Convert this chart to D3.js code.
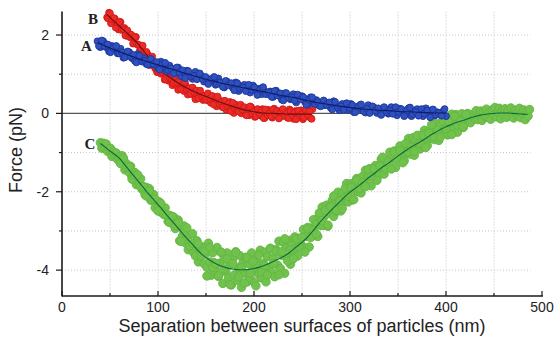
<!DOCTYPE html>
<html>
<head>
<meta charset="utf-8">
<script src="https://cdn.jsdelivr.net/npm/d3@7"></script>
<style>
  html, body { margin: 0; padding: 0; background: #fff; }
  svg { display: block; }
</style>
</head>
<body>
<div id="chart"></div>
<script>
// axis ticks
const xTicks = [0, 100, 200, 300, 400, 500];
const xMinor = [50, 150, 250, 350, 450];
const yTicks = [-4, -2, 0, 2];
const yMinor = [-3, -1, 1];
const xGrid = [50, 100, 150, 200, 250, 300, 350, 400, 450];
const yGrid = [-4, -3, -2, -1, 1, 2];

// series A (blue) raw points, x = start + i*step
const aStart = 37, aStep = 3;
const aForce = [1.84,1.69,1.84,1.69,1.58,1.72,1.63,1.53,1.65,1.42,1.54,1.56,1.41,1.34,1.51,1.36,1.41,1.26,1.32,1.25,
  1.30,1.16,1.32,1.17,1.07,1.22,1.13,1.04,1.17,0.95,1.06,1.09,0.95,0.88,1.06,0.92,0.96,0.81,0.88,0.82,
  0.87,0.73,0.89,0.75,0.66,0.81,0.74,0.65,0.79,0.57,0.69,0.73,0.59,0.53,0.71,0.58,0.63,0.49,0.57,0.50,
  0.56,0.42,0.58,0.45,0.35,0.51,0.44,0.36,0.49,0.28,0.40,0.44,0.30,0.23,0.41,0.28,0.34,0.20,0.28,0.21,
  0.27,0.14,0.31,0.18,0.08,0.24,0.17,0.09,0.24,0.03,0.16,0.20,0.07,0.02,0.21,0.09,0.15,0.01,0.10,0.05,
  0.11,-0.01,0.16,0.04,-0.05,0.12,0.06,-0.02,0.13,-0.07,0.06,0.11,-0.01,-0.07,0.13,0.01,0.08,-0.06,0.03,-0.02,
  0.05,-0.07];
const a2Start = 38.5, a2Step = 3;
const a2Force = [1.72,1.86,1.72,1.76,1.56,1.68,1.72,1.53,1.56,1.43,1.58,1.45,1.49,1.30,1.47,1.32,1.34,1.25,1.39,1.26,
  1.31,1.12,1.25,1.29,1.11,1.15,1.02,1.17,1.05,1.10,0.90,1.08,0.94,0.96,0.87,1.02,0.88,0.93,0.75,0.88,
  0.93,0.75,0.79,0.68,0.83,0.72,0.77,0.59,0.77,0.63,0.66,0.57,0.73,0.60,0.66,0.47,0.61,0.67,0.49,0.54,
  0.42,0.57,0.46,0.51,0.33,0.52,0.39,0.41,0.33,0.48,0.36,0.41,0.22,0.35,0.41,0.24,0.29,0.18,0.33,0.22,
  0.28,0.10,0.29,0.15,0.18,0.10,0.26,0.14,0.21,0.03,0.17,0.23,0.06,0.12,0.01,0.18,0.07,0.13,-0.04,0.16,
  0.03,0.07,-0.01,0.16,0.04,0.11,-0.07,0.08,0.15,-0.02,0.04,-0.06,0.11,0.00,0.07,-0.10,0.10,-0.03,0.01,-0.06,
  0.11];

// series B (red) raw points
const bStart = 47, bStep = 2;
const bForce = [2.45,2.57,2.30,2.42,2.42,2.24,2.14,2.33,2.14,2.18,1.98,2.05,1.94,1.98,1.79,1.95,1.75,1.60,1.68,1.54,
  1.40,1.51,1.23,1.34,1.30,1.15,1.05,1.20,1.01,1.05,0.86,0.94,0.83,0.87,0.72,0.90,0.72,0.60,0.74,0.67,
  0.57,0.71,0.48,0.61,0.63,0.47,0.36,0.57,0.41,0.47,0.34,0.43,0.34,0.41,0.27,0.44,0.27,0.18,0.36,0.26,
  0.16,0.32,0.09,0.24,0.29,0.12,0.01,0.22,0.08,0.14,0.00,0.09,0.02,0.09,-0.05,0.16,0.00,-0.09,0.10,0.02,
  -0.06,0.11,-0.12,0.04,0.09,-0.06,-0.11,0.12,-0.02,0.06,-0.10,0.01,-0.06,0.03,-0.11,0.10,-0.05,-0.14,0.06,-0.01,
  -0.09,0.08,-0.15,0.02,0.07,-0.07,-0.12,0.11];
const b2Start = 48, b2Step = 2;
const b2Force = [2.42,2.55,2.40,2.43,2.19,2.31,2.34,2.13,2.14,1.99,2.12,1.97,2.01,1.78,1.95,1.77,1.75,1.61,1.73,1.56,
  1.57,1.32,1.43,1.45,1.23,1.24,1.08,1.21,1.06,1.09,0.87,1.05,0.89,0.89,0.78,0.93,0.79,0.84,0.62,0.75,
  0.80,0.60,0.64,0.50,0.66,0.53,0.58,0.38,0.58,0.43,0.45,0.35,0.51,0.38,0.44,0.23,0.37,0.43,0.24,0.29,
  0.16,0.32,0.20,0.26,0.06,0.27,0.12,0.15,0.05,0.22,0.10,0.16,-0.05,0.11,0.18,0.00,0.05,-0.07,0.11,-0.01,
  0.07,-0.12,0.10,-0.04,0.00,-0.08,0.10,-0.02,0.06,-0.13,0.03,0.11,-0.06,0.00,-0.12,0.06,-0.05,0.03,-0.15,0.07,
  -0.06,-0.02,-0.10,0.08,-0.03,0.05,-0.14];

// series C (green) raw points
const cStart = 40, cStep = 1.5;
const cForce = [-0.75,-0.89,-0.76,-0.88,-0.78,-0.97,-0.93,-0.89,-1.10,-0.98,-1.07,-1.01,-1.18,-1.11,-1.26,-1.08,-1.29,-1.44,-1.28,-1.40,
  -1.51,-1.35,-1.64,-1.56,-1.51,-1.82,-1.65,-1.80,-1.67,-1.94,-1.87,-2.08,-1.89,-2.08,-1.92,-2.22,-2.14,-2.07,-2.41,-2.23,
  -2.36,-2.26,-2.52,-2.41,-2.58,-2.41,-2.61,-2.76,-2.60,-2.72,-2.82,-2.65,-2.94,-2.87,-2.72,-3.25,-2.89,-3.13,-2.87,-3.30,
  -3.13,-3.48,-3.10,-3.39,-3.07,-3.56,-3.40,-3.25,-3.79,-3.43,-3.64,-3.41,-3.84,-3.59,-3.93,-3.31,-3.79,-4.13,-3.56,-3.81,
  -4.01,-3.42,-4.16,-3.82,-3.56,-4.34,-3.72,-4.04,-3.56,-4.20,-3.87,-4.38,-3.70,-4.12,-3.53,-4.26,-3.94,-3.63,-4.44,-3.81,
  -4.08,-3.67,-4.30,-3.84,-4.21,-3.56,-4.01,-4.32,-3.72,-3.94,-4.11,-3.49,-4.20,-3.82,-3.54,-4.30,-3.65,-3.94,-3.44,-4.05,
  -3.69,-4.17,-3.47,-3.87,-3.26,-3.96,-3.62,-3.29,-4.08,-3.43,-3.68,-3.24,-3.85,-3.36,-3.63,-3.15,-3.44,-3.64,-3.19,-3.32,
  -3.42,-2.96,-3.43,-3.14,-2.91,-3.41,-2.93,-3.11,-2.71,-3.12,-2.83,-3.14,-2.61,-2.86,-2.39,-2.86,-2.61,-2.34,-2.88,-2.39,
  -2.54,-2.22,-2.63,-2.27,-2.50,-2.01,-2.29,-2.49,-2.03,-2.16,-2.25,-1.79,-2.26,-1.97,-1.79,-2.21,-1.82,-1.98,-1.66,-2.00,
  -1.78,-2.03,-1.61,-1.82,-1.45,-1.84,-1.62,-1.41,-1.85,-1.47,-1.59,-1.33,-1.66,-1.37,-1.55,-1.17,-1.40,-1.55,-1.19,-1.29,
  -1.37,-0.99,-1.39,-1.15,-0.96,-1.38,-0.99,-1.15,-0.83,-1.17,-0.95,-1.21,-0.79,-1.01,-0.64,-1.04,-0.83,-0.62,-1.07,-0.69,
  -0.82,-0.57,-0.91,-0.63,-0.81,-0.43,-0.67,-0.82,-0.46,-0.56,-0.64,-0.27,-0.67,-0.44,-0.26,-0.69,-0.29,-0.46,-0.15,-0.50,
  -0.29,-0.55,-0.15,-0.37,-0.02,-0.42,-0.22,-0.03,-0.48,-0.11,-0.25,-0.01,-0.36,-0.08,-0.23,0.00,-0.15,-0.24,-0.03,-0.09,
  -0.14,0.07,-0.16,-0.03,0.06,-0.18,0.04,-0.07,0.11,-0.10,0.02,-0.15,0.09,-0.05,0.15,-0.09,0.03,0.13,-0.14,0.07,
  -0.02,0.12,-0.10,0.06,-0.07,0.14,-0.02,-0.12,0.08,-0.01,-0.07,0.13,-0.11,0.00,0.09,-0.16,0.04,-0.07,0.10];
const c2Start = 61, c2Step = 3;
const c2Force = [-1.28,-1.14,-1.38,-1.37,-1.68,-1.58,-1.57,-1.87,-1.88,-2.11,-1.98,-2.19,-2.19,-2.49,-2.30,-2.55,-2.59,-2.78,-2.63,-2.86,
  -2.79,-3.27,-3.03,-2.92,-3.38,-3.32,-3.64,-3.33,-3.64,-3.53,-4.15,-3.42,-3.93,-3.83,-4.14,-3.54,-3.97,-3.71,-4.37,-3.83,
  -3.55,-4.17,-3.94,-4.33,-3.69,-4.07,-3.78,-4.40,-3.61,-4.05,-3.88,-4.12,-3.46,-3.83,-3.51,-4.12,-3.53,-3.20,-3.77,-3.48,
  -3.71,-3.20,-3.41,-3.16,-3.54,-2.93,-3.17,-2.98,-3.08,-2.54,-2.74,-2.48,-2.85,-2.38,-2.11,-2.47,-2.23,-2.43,-1.91,-2.11,
  -1.89,-2.20,-1.70,-1.91,-1.77,-1.87,-1.44,-1.62,-1.41,-1.71,-1.34,-1.12,-1.42,-1.24,-1.42,-0.99,-1.16,-0.95,-1.26,-0.77,
  -0.98,-0.86,-0.97,-0.56,-0.76,-0.55,-0.87,-0.51,-0.29,-0.60,-0.43,-0.61,-0.20,-0.39,-0.21,-0.54,-0.07,-0.30,-0.20,-0.34,
  -0.03];

// fitted curves
const aFitX = [37,40,50,60,70,80,90,100,110,120,130,140,150,160,170,180,190,200,210,220,230,240,250,260,270,280,290,300,310,320,330,340,350,360,370,380,390,400];
const aFitY = [1.80,1.77,1.67,1.57,1.48,1.39,1.31,1.24,1.16,1.09,1.01,0.94,0.87,0.81,0.75,0.70,0.65,0.60,0.55,0.50,0.45,0.41,0.36,0.30,0.26,0.22,0.18,0.15,0.12,0.10,0.08,0.07,0.05,0.04,0.03,0.02,0.01,0.01];
const bFitX = [47,50,60,70,80,90,100,110,120,130,140,150,160,170,180,190,200,210,220,230,240,250,260];
const bFitY = [2.52,2.45,2.22,2.00,1.75,1.44,1.17,0.96,0.79,0.65,0.53,0.43,0.33,0.24,0.16,0.09,0.04,0.01,0.00,-0.01,-0.02,-0.02,-0.02];
const cFitX = [40,45,50,55,60,65,70,75,80,85,90,95,100,105,110,115,120,125,130,135,140,145,150,155,160,165,170,175,180,185,190,195,200,205,210,215,220,225,230,235,240,245,250,255,260,265,270,275,280,285,290,295,300,305,310,315,320,325,330,335,340,345,350,355,360,365,370,375,380,385,390,395,400,405,410,415,420,425,430,435,440,445,450,455,460,465,470,475,480,485];
const cFitY = [-0.77,-0.86,-0.96,-1.05,-1.15,-1.30,-1.45,-1.60,-1.75,-1.90,-2.05,-2.19,-2.33,-2.47,-2.62,-2.76,-2.90,-3.05,-3.19,-3.32,-3.46,-3.58,-3.68,-3.76,-3.83,-3.89,-3.93,-3.96,-3.98,-3.99,-3.99,-3.98,-3.96,-3.93,-3.89,-3.84,-3.78,-3.72,-3.66,-3.59,-3.49,-3.39,-3.29,-3.18,-3.04,-2.89,-2.74,-2.61,-2.48,-2.36,-2.24,-2.12,-2.01,-1.92,-1.83,-1.73,-1.63,-1.54,-1.44,-1.35,-1.27,-1.18,-1.09,-1.00,-0.92,-0.84,-0.77,-0.70,-0.62,-0.54,-0.47,-0.40,-0.34,-0.29,-0.24,-0.20,-0.16,-0.12,-0.08,-0.05,-0.03,-0.01,0.00,0.01,0.01,0.01,0.00,-0.01,-0.02,-0.03];

const width = 555, height = 348;
const x = d3.scaleLinear().domain([0, 500]).range([62, 542]);
const y = d3.scaleLinear().domain([-4.66, 2.6]).range([296, 11.5]);
const gridEnd = 488;

const svg = d3.select('#chart').append('svg')
  .attr('width', width)
  .attr('height', height)
  .style('font-family', 'Liberation Sans, Arial, sans-serif');

svg.append('rect').attr('width', width).attr('height', height).attr('fill', '#fff');

// grid
svg.append('g').selectAll('line')
  .data(xGrid)
  .enter().append('line')
  .attr('x1', d => x(d)).attr('x2', d => x(d))
  .attr('y1', y.range()[1]).attr('y2', y.range()[0])
  .attr('stroke', '#c4c4c4')
  .attr('stroke-dasharray', '1,2');

svg.append('g').selectAll('line')
  .data(yGrid)
  .enter().append('line')
  .attr('x1', x(0)).attr('x2', x(gridEnd))
  .attr('y1', d => y(d)).attr('y2', d => y(d))
  .attr('stroke', '#c4c4c4')
  .attr('stroke-dasharray', '1,2');

// zero line
svg.append('line')
  .attr('x1', x(0)).attr('x2', x(gridEnd))
  .attr('y1', y(0)).attr('y2', y(0))
  .attr('stroke', '#555')
  .attr('stroke-width', 1.3);

const toPts = (start, step, vals) => vals.map((v, i) => [start + i * step, v]);
const line = d3.line().x(d => x(d[0])).y(d => y(d[1])).curve(d3.curveMonotoneX);

function drawSeries(pts, fitX, fitY, r, fill, stroke, fitColor) {
  const g = svg.append('g');
  g.selectAll('circle')
    .data(pts)
    .enter().append('circle')
    .attr('cx', d => x(d[0]))
    .attr('cy', d => y(d[1]))
    .attr('r', r)
    .attr('fill', fill)
    .attr('stroke', stroke)
    .attr('stroke-width', 0.9);
  g.append('path')
    .datum(fitX.map((v, i) => [v, fitY[i]]))
    .attr('d', line)
    .attr('fill', 'none')
    .attr('stroke', fitColor)
    .attr('stroke-width', 1.1);
}

const cPts = toPts(cStart, cStep, cForce).concat(toPts(c2Start, c2Step, c2Force));
const bPts = toPts(bStart, bStep, bForce).concat(toPts(b2Start, b2Step, b2Force));
const aPts = toPts(aStart, aStep, aForce).concat(toPts(a2Start, a2Step, a2Force));

drawSeries(cPts, cFitX, cFitY, 4.2, '#70c24c', '#62b642', '#0b6b3a');
drawSeries(bPts, bFitX, bFitY, 3.4, '#ec2b26', '#cf1a1a', '#6e1010');
drawSeries(aPts, aFitX, aFitY, 3.4, '#2f50bf', '#1d359a', '#0c1c66');

// axes
const axisColor = '#1a1a1a';
svg.append('line')
  .attr('x1', x(0)).attr('x2', x(0))
  .attr('y1', y.range()[1]).attr('y2', y.range()[0] + 0.5)
  .attr('stroke', axisColor).attr('stroke-width', 1.6);
svg.append('line')
  .attr('x1', x(0)).attr('x2', x(500) + 1)
  .attr('y1', y.range()[0]).attr('y2', y.range()[0])
  .attr('stroke', axisColor).attr('stroke-width', 1.6);

// x ticks (inward)
svg.append('g').selectAll('line')
  .data(xTicks.concat(xMinor))
  .enter().append('line')
  .attr('x1', d => x(d)).attr('x2', d => x(d))
  .attr('y1', y.range()[0])
  .attr('y2', d => y.range()[0] - (d % 100 === 0 ? 5 : 3))
  .attr('stroke', axisColor).attr('stroke-width', 1.2);

svg.append('g').selectAll('text')
  .data(xTicks)
  .enter().append('text')
  .attr('x', d => x(d))
  .attr('y', 312)
  .attr('text-anchor', 'middle')
  .attr('font-size', 14)
  .attr('fill', '#222')
  .text(d => d);

// y ticks (outward)
svg.append('g').selectAll('line')
  .data(yTicks.concat(yMinor))
  .enter().append('line')
  .attr('x1', x(0))
  .attr('x2', d => x(0) - (d % 2 === 0 ? 6 : 3))
  .attr('y1', d => y(d)).attr('y2', d => y(d))
  .attr('stroke', axisColor).attr('stroke-width', 1.2);

svg.append('g').selectAll('text')
  .data(yTicks)
  .enter().append('text')
  .attr('x', 49)
  .attr('y', d => y(d) + 5)
  .attr('text-anchor', 'end')
  .attr('font-size', 14)
  .attr('fill', '#222')
  .text(d => d);

// axis titles
svg.append('text')
  .attr('transform', 'translate(22,150) rotate(-90)')
  .attr('text-anchor', 'middle')
  .attr('font-size', 18)
  .attr('fill', '#222')
  .text('Force (pN)');

svg.append('text')
  .attr('x', 302)
  .attr('y', 332)
  .attr('text-anchor', 'middle')
  .attr('font-size', 18)
  .attr('fill', '#222')
  .text('Separation between surfaces of particles (nm)');

// series labels
const labels = [
  { name: 'B', px: 88, py: 23.5 },
  { name: 'A', px: 81, py: 50.5 },
  { name: 'C', px: 84.5, py: 148.5 }
];
svg.append('g').selectAll('text')
  .data(labels)
  .enter().append('text')
  .attr('x', d => d.px)
  .attr('y', d => d.py)
  .attr('font-family', 'Liberation Serif, Times New Roman, serif')
  .attr('font-weight', 'bold')
  .attr('font-size', 15)
  .attr('fill', '#222')
  .text(d => d.name);
</script>
</body>
</html>
